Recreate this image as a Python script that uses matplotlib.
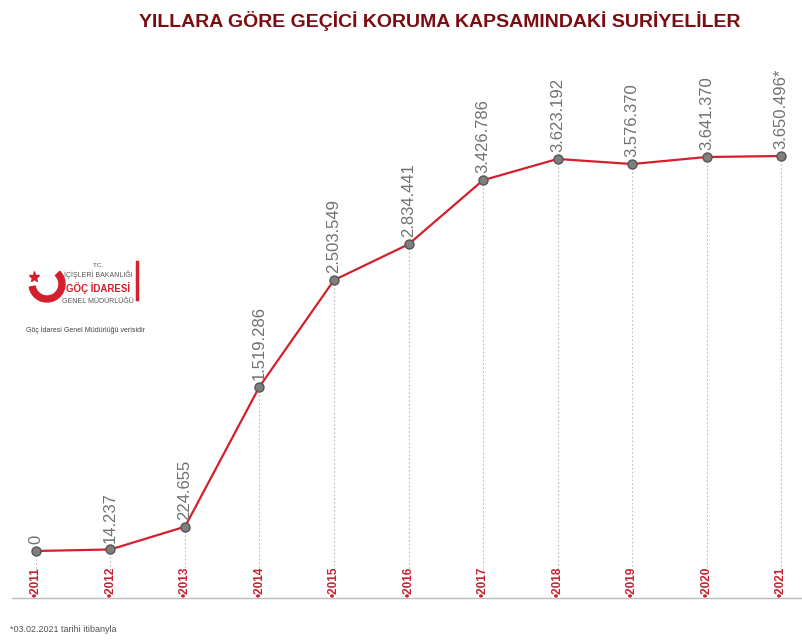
import numpy as np
import matplotlib.pyplot as plt
from matplotlib.patches import Wedge

years = [2011, 2012, 2013, 2014, 2015, 2016, 2017, 2018, 2019, 2020, 2021]
values = [0, 14237, 224655, 1519286, 2503549, 2834441, 3426786, 3623192, 3576370, 3641370, 3650496]
value_labels = ['0', '14.237', '224.655', '1.519.286', '2.503.549', '2.834.441',
                '3.426.786', '3.623.192', '3.576.370', '3.641.370', '3.650.496*']

title = 'YILLARA GÖRE GEÇİCİ KORUMA KAPSAMINDAKİ SURİYELİLER'
footnote = '*03.02.2021 tarihi itibanyla'

lib = ['Liberation Sans', 'DejaVu Sans']
line_red = '#d3202c'
year_red = '#c8202f'
dark_red = '#7b0d12'

fig = plt.figure(figsize=(8.03, 6.44), dpi=100)
ax = fig.add_axes([0, 0, 1, 1])
ax.set_xlim(2010.517, 2021.295)
ax.set_ylim(-0.8595, 5.0924)
ax.axis('off')

v = np.array(values) / 1e6

# dotted guides from each point down to the year labels
for x, y in zip(years, v):
    ax.plot([x, x], [y, -0.176], ls=(0, (1.5, 2)), color='#bdbdbd', lw=0.8, zorder=1)

# baseline
ax.axhline(-0.434, xmin=0.015, xmax=1, color='#bcbcbc', lw=1, zorder=1)

ax.plot(years, v, color=line_red, lw=1.6, zorder=2)
ax.plot(years, v, 'o', ms=6.5, mfc='#7f7f7f', mec='#555555', mew=1, zorder=3)

for x, y, lab in zip(years, v, value_labels):
    ax.annotate(lab, (x, y), xytext=(0, 5), textcoords='offset points',
                rotation=90, ha='center', va='bottom', fontsize=12,
                color='#707070', family=lib)

for x in years:
    ax.text(x, -0.425, '•' + str(x), rotation=90, ha='center', va='bottom',
            fontsize=8.5, fontweight='bold', color=year_red, family=lib)

fig.text(0.548, 0.968, title, ha='center', va='center', fontsize=14,
         fontweight='bold', color=dark_red, family=lib)

fig.text(0.012, 0.022, footnote, ha='left', va='center', fontsize=6.5,
         color='#555555', family=lib)

# logo block, drawn in pixel coordinates (y measured from the bottom)
lx = fig.add_axes([0, 0, 1, 1], facecolor='none')
lx.set_xlim(0, 803)
lx.set_ylim(0, 644)
lx.axis('off')
lx.add_patch(Wedge((47, 644 - 284), 18, 190, 45, width=6, color=line_red))
lx.plot([34], [644 - 277], marker='*', ms=8, color=line_red)
lx.text(98, 644 - 265, 'T.C.', ha='center', va='center', fontsize=4.5, color='#555555', family=lib)
lx.text(98, 644 - 275, 'İÇİŞLERİ BAKANLIĞI', ha='center', va='center', fontsize=5, color='#555555', family=lib)
lx.text(98, 644 - 288, 'GÖÇ İDARESİ', ha='center', va='center', fontsize=7, fontweight='bold', color=line_red, family=lib)
lx.text(98, 644 - 301, 'GENEL MÜDÜRLÜĞÜ', ha='center', va='center', fontsize=5, color='#555555', family=lib)
lx.plot([137, 137], [644 - 299, 644 - 262], color=line_red, lw=2.5)
lx.text(86, 644 - 330, 'Göç İdaresi Genel Müdürlüğü verisidir', ha='center', va='center',
        fontsize=5, color='#444444', family=lib)

fig.savefig('out.png', dpi=100)
